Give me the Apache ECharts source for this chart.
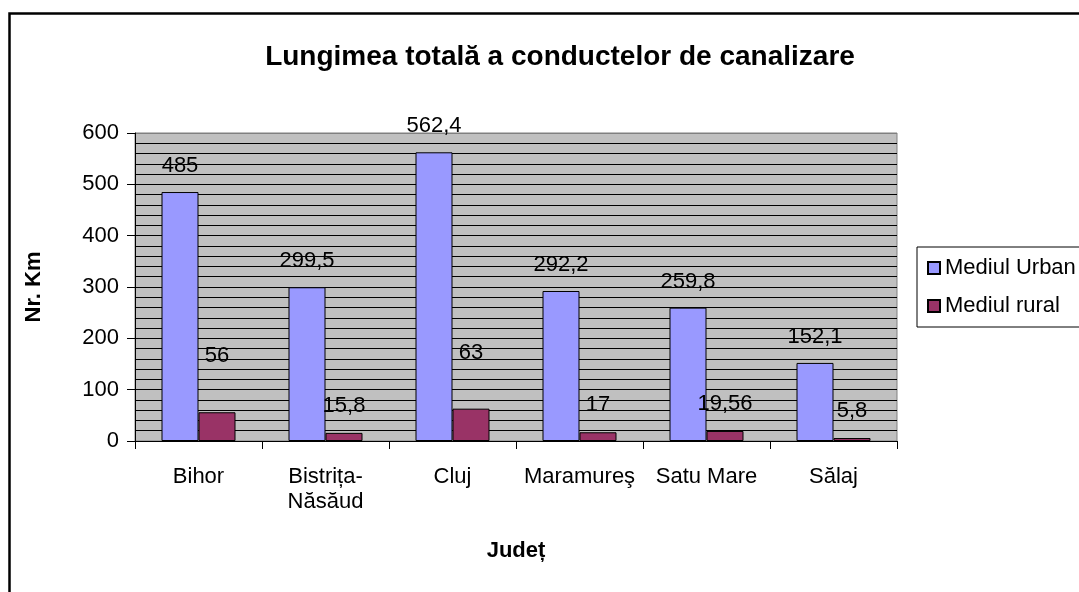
<!DOCTYPE html>
<html>
<head>
<meta charset="utf-8">
<title>Lungimea totală a conductelor de canalizare</title>
<script src="https://cdn.jsdelivr.net/npm/echarts@6/dist/echarts.min.js"></script>
<style>
  html, body { margin: 0; padding: 0; background: #fff; }
  #chart { width: 1079px; height: 592px; }
</style>
</head>
<body>
<div id="chart"></div>
<script>
// date
const judete = ['Bihor', 'Bistrița-\nNăsăud', 'Cluj', 'Maramureş', 'Satu Mare', 'Sălaj'];
const urban = [485, 299.5, 562.4, 292.2, 259.8, 152.1];
const rural = [56, 15.8, 63, 17, 19.56, 5.8];
const yTicks = [0, 100, 200, 300, 400, 500, 600];

const FONT = "'Liberation Sans', Arial, sans-serif";

// virgula ca separator zecimal
const fmt = v => String(v).replace('.', ',');

const chart = echarts.init(document.getElementById('chart'));

const option = {
  animation: false,
  textStyle: { fontFamily: FONT, color: '#000' },
  title: {
    text: 'Lungimea totală a conductelor de canalizare',
    left: 555,
    top: 38,
    textAlign: 'center',
    textStyle: { fontSize: 28, fontWeight: 'bold', color: '#000', fontFamily: FONT }
  },
  legend: {
    orient: 'vertical',
    left: 917,
    top: 247,
    padding: [10, 30, 10, 10],
    itemWidth: 12,
    itemHeight: 12,
    itemGap: 16,
    itemTextGap: 8,
    borderColor: '#000',
    borderWidth: 1,
    backgroundColor: '#fff',
    icon: 'rect',
    textStyle: { fontSize: 22, color: '#000', fontFamily: FONT },
    data: ['Mediul Urban', 'Mediul rural']
  },
  grid: {
    left: 135,
    top: 133,
    right: 182,
    bottom: 151,
    show: true,
    backgroundColor: '#C0C0C0',
    borderColor: '#808080',
    borderWidth: 1,
    containLabel: false
  },
  xAxis: {
    type: 'category',
    data: judete,
    name: 'Județ',
    nameLocation: 'middle',
    nameGap: 99,
    nameTextStyle: { fontSize: 22, fontWeight: 'bold', color: '#000', fontFamily: FONT },
    axisLine: { lineStyle: { color: '#000', width: 1 } },
    axisTick: { show: true, length: 8, lineStyle: { color: '#000' } },
    axisLabel: { fontSize: 22, color: '#000', margin: 23, lineHeight: 25, interval: 0, fontFamily: FONT },
    splitLine: { show: false }
  },
  yAxis: {
    type: 'value',
    min: yTicks[0],
    max: yTicks[yTicks.length - 1],
    interval: 100,
    name: 'Nr. Km',
    nameLocation: 'middle',
    nameGap: 90,
    nameRotate: 90,
    nameTextStyle: { fontSize: 22, fontWeight: 'bold', color: '#000', fontFamily: FONT },
    axisLine: { show: true, lineStyle: { color: '#000', width: 1 } },
    axisTick: { show: true, length: 8, lineStyle: { color: '#000' } },
    axisLabel: { fontSize: 22, color: '#000', margin: 16, fontFamily: FONT },
    splitLine: {
      show: true,
      lineStyle: { color: ['#000', '#000', '#000', '#000', '#000', '#000', '#808080'], width: 1 }
    },
    minorTick: { show: false, splitNumber: 5 },
    minorSplitLine: { show: true, lineStyle: { color: '#000', width: 1 } }
  },
  series: [
    {
      name: 'Mediul Urban',
      type: 'bar',
      data: urban,
      barWidth: 37,
      barGap: '0%',
      itemStyle: { color: '#9999FF', borderColor: '#000', borderWidth: 1 },
      label: {
        show: true,
        position: 'top',
        distance: 15,
        fontSize: 22,
        color: '#000',
        fontFamily: FONT,
        formatter: p => fmt(p.value)
      }
    },
    {
      name: 'Mediul rural',
      type: 'bar',
      // etichetele pentru Bihor si Cluj stau mai sus, ca in original
      data: rural.map((v, i) => (i === 0 || i === 2) ? { value: v, label: { distance: 45 } } : v),
      barWidth: 37,
      barGap: '0%',
      itemStyle: { color: '#993366', borderColor: '#000', borderWidth: 1 },
      label: {
        show: true,
        position: 'top',
        distance: 16,
        fontSize: 22,
        color: '#000',
        fontFamily: FONT,
        formatter: p => fmt(p.value)
      }
    }
  ],
  graphic: [
    {
      type: 'rect',
      shape: { x: 9.5, y: 13.5, width: 1200, height: 700 },
      style: { fill: 'none', stroke: '#000', lineWidth: 2.5 },
      silent: true,
      z: 100
    }
  ]
};

chart.setOption(option);
</script>
</body>
</html>
